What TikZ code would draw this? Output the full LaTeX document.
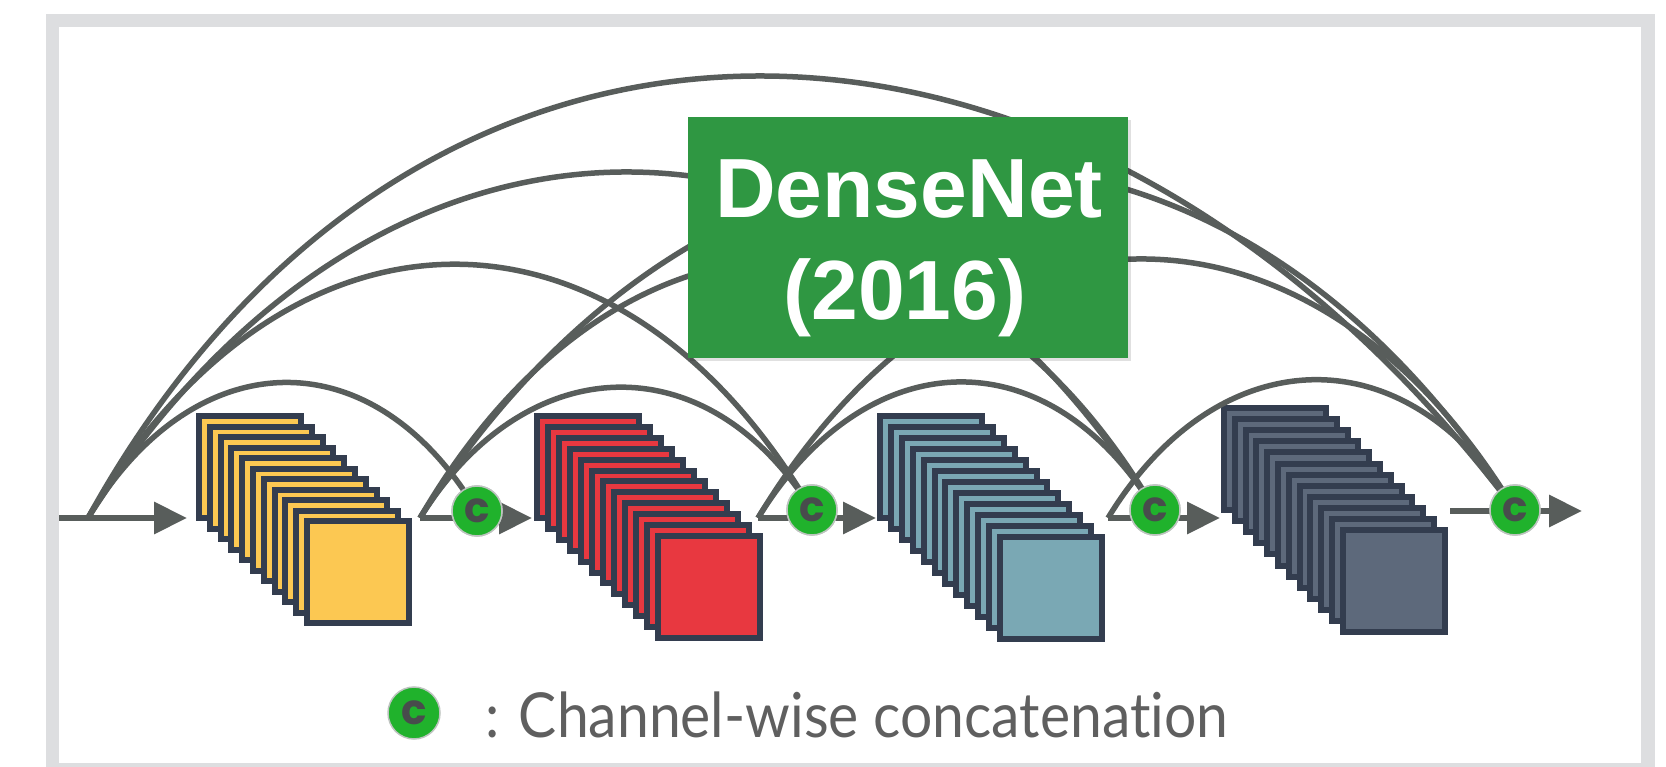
\documentclass[tikz,border=0pt]{standalone}
\usepackage{fontspec}
\usepackage{graphicx}
\usetikzlibrary{arrows.meta}
\newfontfamily\titlefont{Liberation Sans}
\newfontfamily\cfont{Poppins}
\newfontfamily\legfont{Lato}[Ligatures=NoCommon]
\definecolor{lgray}{RGB}{88,93,91}
\definecolor{framegray}{RGB}{221,222,224}
\definecolor{sheetborder}{RGB}{51,61,79}
\definecolor{cyellow}{RGB}{252,200,82}
\definecolor{cred}{RGB}{232,56,64}
\definecolor{cteal}{RGB}{122,168,180}
\definecolor{cslate}{RGB}{93,105,123}
\definecolor{cgreen}{RGB}{32,178,44}
\definecolor{cring}{RGB}{190,196,192}
\definecolor{ctext}{RGB}{72,76,76}
\definecolor{boxgreen}{RGB}{47,151,66}
\definecolor{leggray}{RGB}{95,95,95}
\newcommand{\fmstack}[6]{%
  \foreach \i in {0,...,#5}{%
    \draw[sheet,fill=#6] ({#1+\i*#3+3},{#2+\i*#4+3}) rectangle +(102,102);}}
\begin{document}
\begin{tikzpicture}[x=1pt,y=-1pt,
  sheet/.style={draw=sheetborder, line width=6pt, line join=miter},
  mainline/.style={line width=6.5pt, draw=lgray},
  flow/.style={mainline, -{Triangle[length=33pt,width=31pt]}},
  skip/.style={line width=5.5pt, draw=lgray},
  cnode/.style={circle, fill=cgreen, draw=cring, line width=1.5pt, minimum size=50pt,
    inner sep=0pt, font=\cfont\bfseries\fontsize{42}{42}\selectfont, text=ctext},
  titlebox/.style={fill=boxgreen, minimum width=440pt, minimum height=241pt, inner sep=0pt},
  titletext/.style={text=white, font=\titlefont\bfseries\fontsize{84}{84}\selectfont,
    inner sep=0pt, anchor=base}]
\useasboundingbox (0,0) rectangle (1666,767);
% frame
\fill[white] (0,0) rectangle (1666,767);
\fill[framegray] (46,14) rectangle (1655,767);
\fill[white] (59,27) rectangle (1641,763);

% points on the main line
\coordinate (in0) at (59,518);
\coordinate (b0) at (88,518);
\coordinate (b1) at (420,518);
\coordinate (b2) at (758,518);
\coordinate (b3) at (1108,518);
\coordinate (b4) at (1450,511);
\coordinate (yin) at (187,518);
\coordinate (rin) at (532,518);
\coordinate (tin) at (876,518);
\coordinate (din) at (1220,518);
\coordinate (out) at (1582,511);

% main flow
\draw[flow] (in0) -- (yin);
\draw[flow] (b1) -- (rin);
\draw[flow] (b2) -- (tin);
\draw[flow] (b3) -- (din);
\draw[flow] (b4) -- (out);

% feature-map stacks
\coordinate (ystack) at (196,413);
\coordinate (rstack) at (534,413);
\coordinate (tstack) at (877,413);
\coordinate (dstack) at (1221,405);
\fmstack{196}{413}{10.8}{10.5}{10}{cyellow}
\fmstack{534}{413}{11}{10.9}{11}{cred}
\fmstack{877}{413}{10.9}{11}{11}{cteal}
\fmstack{1221}{405}{10.8}{11.1}{11}{cslate}

% concatenation nodes (placed first so the arcs can aim at them)
\node[cnode] (c1) at (477,511) {c};
\node[cnode] (c2) at (812,510) {c};
\node[cnode] (c3) at (1155,510) {c};
\node[cnode] (c4) at (1515,510) {c};

% skip connections
\draw[skip] (b0) .. controls +(105,-176) and +(-105,-176) .. (c1.center);
\draw[skip] (b0) .. controls +(195,-333) and +(-195,-333) .. (c2.center);
\draw[skip] (b0) .. controls +(288,-456) and +(-288,-456) .. (c3.center);
\draw[skip] (b0) .. controls +(330,-598) and +(-430,-570) .. (c4.center);
\draw[skip] (b1) .. controls +(105,-169) and +(-105,-169) .. (c2.center);
\draw[skip] (b1) .. controls +(198,-340) and +(-198,-340) .. (c3.center);
\draw[skip] (b1) .. controls +(295,-464) and +(-295,-464) .. (c4.center);
\draw[skip] (b2) .. controls +(108,-176) and +(-108,-176) .. (c3.center);
\draw[skip] (b2) .. controls +(205,-340) and +(-205,-340) .. (c4.center);
\draw[skip] (b3) .. controls +(109,-179) and +(-109,-179) .. (c4.center);

% circles again on top of the arcs
\node[cnode] at (c1) {c};
\node[cnode] at (c2) {c};
\node[cnode] at (c3) {c};
\node[cnode] at (c4) {c};

% title
\fill[black,opacity=0.12] (690,120) rectangle (1131,361);
\node[titlebox] (title) at (908,237.5) {};
\node[titletext] (t1) at (909,218) {DenseNet};
\node[titletext] (t2) at (905,320) {(2016)};

% legend
\node[cnode, minimum size=52pt] (lc) at (414,713) {c};
\node[anchor=base west, text=leggray, inner sep=0pt,
  font=\legfont\fontsize{62}{62}\selectfont] (legtext) at (485,737)
  {\scalebox{0.92}[1]{: Channel-wise concatenation}};
\end{tikzpicture}
\end{document}
